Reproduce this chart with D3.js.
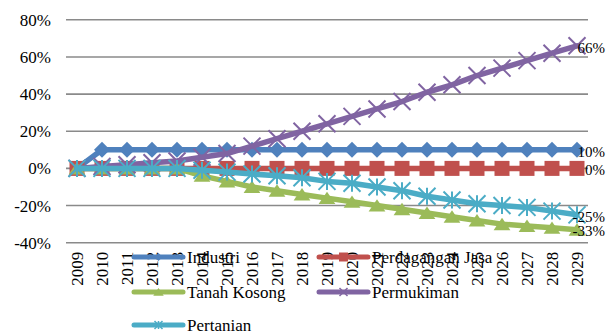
<!DOCTYPE html>
<html>
<head>
<meta charset="utf-8">
<script src="https://cdn.jsdelivr.net/npm/d3@7"></script>
<style>
  body { margin: 0; background: #fff; }
  svg { display: block; }
</style>
</head>
<body>
<svg id="chart" width="616" height="335"></svg>
<script>
// Land-use change (%) relative to 2009
const years = [2009, 2010, 2011, 2012, 2013, 2014, 2015, 2016, 2017, 2018, 2019,
               2020, 2021, 2022, 2023, 2024, 2025, 2026, 2027, 2028, 2029];
const industri        = [0, 10, 10, 10, 10, 10, 10, 10, 10, 10, 10, 10, 10, 10, 10, 10, 10, 10, 10, 10, 10];
const perdaganganJasa = [0, 0, 0, 0, 0, 0, 0, 0, 0, 0, 0, 0, 0, 0, 0, 0, 0, 0, 0, 0, 0];
const tanahKosong     = [0, 0, 0, 0, 0, -4, -7, -10, -12, -14, -16, -18, -20, -22, -24, -26, -28, -30, -31, -32, -33];
const permukiman      = [0, 1, 2, 3, 4, 6, 8, 12, 16, 20, 24, 28, 32, 36, 41, 45, 50, 54, 58, 62, 66];
const pertanian       = [0, 0, 0, 0, 0, -1, -2, -3, -4, -5, -7, -8, -10, -12, -15, -17, -19, -20, -21, -23, -25];
const seriesNames = ["Industri", "Perdagangan Jasa", "Tanah Kosong", "Permukiman", "Pertanian"];
const yTicks = [-40, -20, 0, 20, 40, 60, 80];

const FONT = "'Liberation Serif', 'Times New Roman', serif";

const series = [
  { name: seriesNames[0], values: industri,        color: "#4F81BD", marker: "diamond" },
  { name: seriesNames[1], values: perdaganganJasa, color: "#C0504D", marker: "square" },
  { name: seriesNames[2], values: tanahKosong,     color: "#9BBB59", marker: "triangle" },
  { name: seriesNames[3], values: permukiman,      color: "#8064A2", marker: "x" },
  { name: seriesNames[4], values: pertanian,       color: "#4BACC6", marker: "asterisk" }
];

const svg = d3.select("#chart").style("font-family", FONT);
const plot = { top: 19.8, bottom: 242.7 };

const x = d3.scaleBand().domain(years).range([64.5, 589.5]);
const y = d3.scaleLinear().domain([-40, 80]).range([plot.bottom, plot.top]);
const cx = d => x(d) + x.bandwidth() / 2;

// horizontal gridlines
svg.append("g")
  .selectAll("line")
  .data(yTicks)
  .join("line")
  .attr("x1", 66).attr("x2", 588)
  .attr("y1", d => y(d)).attr("y2", d => y(d))
  .attr("stroke", "#8a8a8a")
  .attr("stroke-width", 1.6);

// y axis labels
const yAxis = svg.append("g")
  .attr("transform", `translate(${66},0)`)
  .call(d3.axisLeft(y).tickValues(yTicks).tickSize(0).tickPadding(15).tickFormat(d => d + "%"));
yAxis.select(".domain").remove();
yAxis.selectAll("text")
  .style("font-family", FONT)
  .style("font-size", "17px")
  .attr("fill", "#000");

// x axis labels, rotated
const xAxis = svg.append("g")
  .attr("transform", `translate(0,${plot.bottom})`)
  .call(d3.axisBottom(x).tickSize(0).tickFormat(d => String(d)));
xAxis.select(".domain").remove();
xAxis.selectAll("text")
  .style("font-family", FONT)
  .style("font-size", "17px")
  .attr("fill", "#000")
  .attr("transform", "rotate(-90)")
  .attr("text-anchor", "end")
  .attr("x", -9)
  .attr("y", 0)
  .attr("dy", "0.35em");

// marker shapes
function markerPath(type, r) {
  switch (type) {
    case "diamond":  return `M0,${-r}L${r},0L0,${r}L${-r},0Z`;
    case "square":   return `M${-r},${-r}H${r}V${r}H${-r}Z`;
    case "triangle": return `M0,${-r * 0.8}L${r * 1.05},${r * 0.75}L${-r * 1.05},${r * 0.75}Z`;
    case "x":        return `M${-r},${-r}L${r},${r}M${r},${-r}L${-r},${r}`;
    case "asterisk": return `M${-r},${-r}L${r},${r}M${r},${-r}L${-r},${r}M0,${-r}L0,${r}`;
  }
}
const isStroked = t => t === "x" || t === "asterisk";
const markerSize = { diamond: 8, square: 7.5, triangle: 8, x: 8.5, asterisk: 8.5 };

const line = d3.line()
  .x((d, i) => cx(years[i]))
  .y(d => y(d));

series.forEach(s => {
  const g = svg.append("g");
  g.append("path")
    .attr("d", line(s.values))
    .attr("fill", "none")
    .attr("stroke", s.color)
    .attr("stroke-width", 5.5)
    .attr("stroke-linejoin", "round")
    .attr("stroke-linecap", "round");
  g.selectAll("path.mk")
    .data(s.values)
    .join("path")
    .attr("class", "mk")
    .attr("transform", (d, i) => `translate(${cx(years[i])},${y(d)})`)
    .attr("d", markerPath(s.marker, markerSize[s.marker]))
    .attr("fill", isStroked(s.marker) ? "none" : s.color)
    .attr("stroke", isStroked(s.marker) ? s.color : "none")
    .attr("stroke-width", 2);
});

// value labels at the last year
const last = years.length - 1;
svg.append("g")
  .selectAll("text")
  .data(series)
  .join("text")
  .attr("x", cx(years[last]) + 28)
  .attr("y", d => y(d.values[last]) + 1.5)
  .attr("dy", "0.35em")
  .attr("text-anchor", "end")
  .attr("fill", "#000")
  .style("font-size", "15px")
  .text(d => d.values[last] + "%");

// legend
const legendCols = [132, 317];
const legendRows = [257, 292, 325];
const legendPos = [[0, 0], [1, 0], [0, 1], [1, 1], [0, 2]];
const legendMarker = { diamond: 4, square: 4.5, triangle: 5, x: 4, asterisk: 4 };
const legend = svg.append("g");
series.forEach((s, i) => {
  const lx = legendCols[legendPos[i][0]];
  const ly = legendRows[legendPos[i][1]];
  const item = legend.append("g").attr("transform", `translate(${lx},${ly})`);
  item.append("line")
    .attr("x1", 2).attr("x2", 51).attr("y1", 0).attr("y2", 0)
    .attr("stroke", s.color)
    .attr("stroke-width", 5)
    .attr("stroke-linecap", "round");
  item.append("path")
    .attr("transform", "translate(26.5,0)")
    .attr("d", markerPath(s.marker, legendMarker[s.marker]))
    .attr("fill", isStroked(s.marker) ? "none" : s.color)
    .attr("stroke", isStroked(s.marker) ? s.color : "none")
    .attr("stroke-width", 1.5);
  item.append("text")
    .attr("x", 55)
    .attr("y", 0)
    .attr("dy", "0.35em")
    .attr("fill", "#000")
    .style("font-size", "17px")
    .text(s.name);
});
</script>
</body>
</html>
